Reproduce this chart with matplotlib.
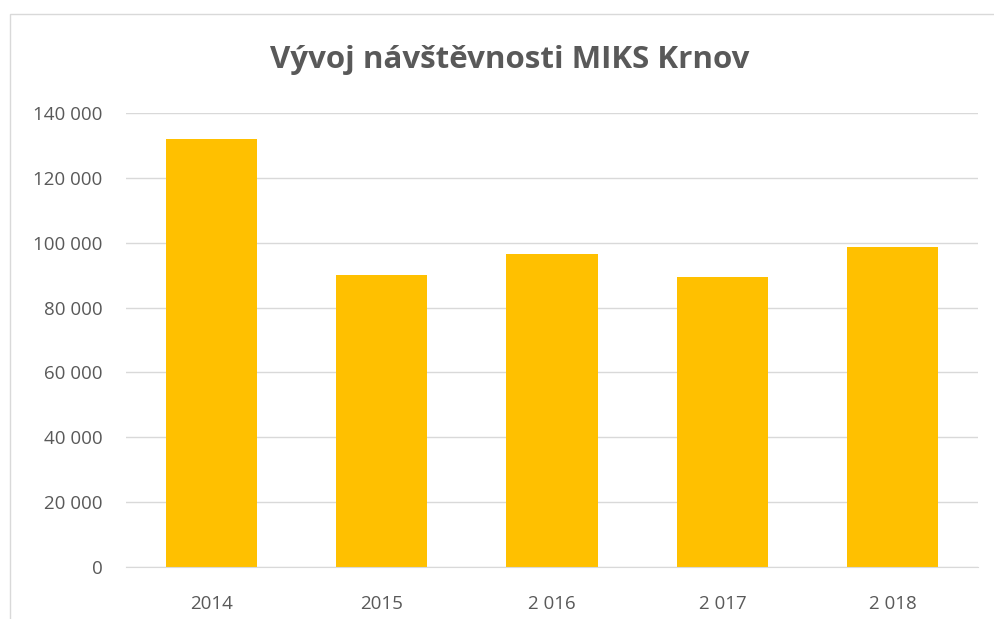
import matplotlib.pyplot as plt
from matplotlib.patches import Rectangle

years = ['2014', '2015', '2 016', '2 017', '2 018']
visitors = [132000, 90000, 96400, 89400, 98700]
yticks = [0, 20000, 40000, 60000, 80000, 100000, 120000, 140000]

plt.rcParams['font.family'] = ['Open Sans', 'DejaVu Sans']

fig = plt.figure(figsize=(9.95, 6.19), dpi=100)
ax = fig.add_axes([126 / 995, 1 - 567 / 619, 852 / 995, 454 / 619])

ax.bar(range(len(years)), visitors, width=0.535, color='#ffc000', zorder=2)
ax.set_xlim(-0.5, len(years) - 0.5)
ax.set_ylim(0, 140000)
ax.set_yticks(yticks)
ax.set_yticklabels([f'{v:,}'.replace(',', ' ') for v in yticks])
ax.set_xticks(range(len(years)))
ax.set_xticklabels(years)
ax.tick_params(length=0, labelsize=13.5, colors='#595959')
ax.tick_params(axis='y', pad=17)
ax.tick_params(axis='x', pad=20)
ax.grid(axis='y', color='#d9d9d9', linewidth=1, zorder=0)
for s in ['top', 'right', 'left']:
    ax.spines[s].set_visible(False)
ax.spines['bottom'].set_color('#d9d9d9')

fig.text(0.512, 1 - 60 / 619, 'Vývoj návštěvnosti MIKS Krnov', ha='center', va='center',
         fontsize=22.5, fontweight='bold', color='#595959')

# chart frame
fig.patches.append(Rectangle((10 / 995, -0.05), 1.0, 1 - 14 / 619 + 0.05,
                             transform=fig.transFigure, fill=False,
                             edgecolor='#d9d9d9', linewidth=1))

fig.savefig('out.png', dpi=100)
